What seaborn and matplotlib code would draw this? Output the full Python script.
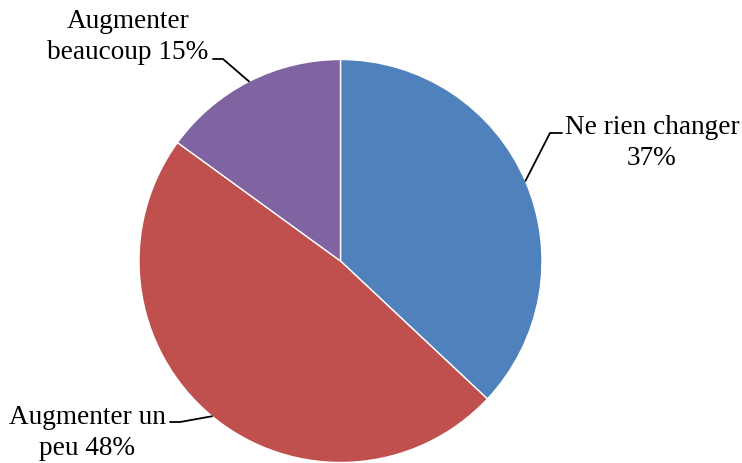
import numpy as np
import seaborn as sns
import matplotlib
matplotlib.use('Agg')
import matplotlib.pyplot as plt

# data
categories = ["Ne rien changer", "Augmenter un peu", "Augmenter beaucoup"]
shares = [37, 48, 15]
label_texts = ["Ne rien changer\n37%", "Augmenter un\npeu 48%", "Augmenter\nbeaucoup 15%"]
colors = ["#4F81BD", "#C0504D", "#8064A2"]

sns.set_theme(style="white")
plt.rcParams['font.family'] = ['Liberation Serif', 'DejaVu Serif']

W, H = 742, 464
fig = plt.figure(figsize=(W / 100, H / 100), dpi=100)
ax = fig.add_axes([0, 0, 1, 1])

cx, cy, r = 340.5, H - 262, 201.5
wedges, _ = ax.pie(
    shares,
    colors=colors,
    startangle=90,
    counterclock=False,
    center=(cx, cy),
    radius=r,
    frame=True,
    wedgeprops=dict(edgecolor='white', linewidth=1),
)
ax.set_xlim(0, W)
ax.set_ylim(0, H)
ax.set_aspect('equal')
ax.axis('off')

# label layout (pixel coords from top): text centre, elbow point, line end
layout = [
    dict(text=(652, 143), elbow=(550, 134), end=(562, 134)),
    dict(text=(87, 433), elbow=(180, 423), end=(170, 423)),
    dict(text=(128, 37), elbow=(223, 60), end=(213, 60)),
]

for w, lab, lay in zip(wedges, label_texts, layout):
    # leader line starts at the middle of the wedge's outer edge
    ang = np.deg2rad((w.theta1 + w.theta2) / 2)
    ax0 = cx + r * np.cos(ang)
    ay0 = cy + r * np.sin(ang)
    ex, ey = lay['elbow']
    fx, fy = lay['end']
    ax.plot([ax0, ex, fx], [ay0, H - ey, H - fy], color='black', lw=1.3,
            solid_joinstyle='miter')
    tx, ty = lay['text']
    ax.text(tx, H - ty, lab, ha='center', va='center', fontsize=19.6,
            linespacing=1.36, color='black')

fig.savefig('out.png', dpi=100)
